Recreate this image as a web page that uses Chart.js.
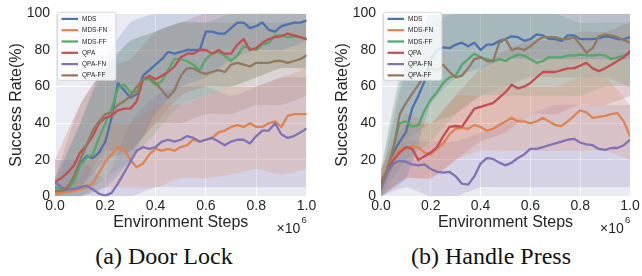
<!DOCTYPE html>
<html><head><meta charset="utf-8">
<script src="https://cdn.jsdelivr.net/npm/chart.js@4/dist/chart.umd.min.js"></script>
<style>
html,body{margin:0;padding:0;background:#fff;width:642px;height:276px;overflow:hidden;position:relative}
#c1{position:absolute;left:0;top:0;width:320px;height:240px}
#c2{position:absolute;left:326px;top:0;width:316px;height:240px}
.cap{position:absolute;top:243px;font-family:'Liberation Serif','Times New Roman',serif;font-size:24px;line-height:26px;color:#111;white-space:nowrap;transform:translateX(-50%)}
</style></head><body>
<canvas id="c1" width="320" height="240"></canvas>
<canvas id="c2" width="316" height="240"></canvas>
<div class="cap" style="left:164px">(a) Door Lock</div>
<div class="cap" style="left:491px">(b) Handle Press</div>
<script>
// ---- data ----
const seriesNames = ['MDS','MDS-FN','MDS-FF','QPA','QPA-FN','QPA-FF'];
const steps = [0,0.025,0.05,0.075,0.1,0.125,0.15,0.175,0.2,0.225,0.25,0.275,0.3,0.325,0.35,0.375,0.4,0.425,0.45,0.475,0.5,0.525,0.55,0.575,0.6,0.625,0.65,0.675,0.7,0.725,0.75,0.775,0.8,0.825,0.85,0.875,0.9,0.925,0.95,0.975,1.0];
const bandSteps = [0,0.1,0.2,0.3,0.4,0.5,0.6,0.7,0.8,0.9,1.0];
const xTicks = [0,0.2,0.4,0.6,0.8,1.0];
const yTicks = [0,20,40,60,80,100];

// (a) Door Lock
const doorMDS   = [3,2.5,4,9,18,22,21,24,30,43,62,58,54,56,66,69,72,75,79,78,79,80,80,80,90,90,89,89,92,95,95,92,93,95,91,90,93,94,95,95,96];
const doorMDSFN = [2,2,2.5,3,4,5,7,13,19,23,27,26,20,16,18,23,26,25,26,25,27,28,31,30,31,32,35,36,38,39,38,40,38,38,40,41,38,44,45,45,45];
const doorMDSFF = [5,4,4,8,17,21,23,32,40,48,59,61,57,57,64,64,61,63,69,75,75,74,72,69,75,78,79,77,74,77,82,81,80,83,84,88,88,87,87.5,87,86];
const doorQPA   = [8,10,13,17,24,28,33,40,43,44,47,48,48,52,64,66,64,66,68,71,76,78,78,80,80,78,80,78,78,83,86,80,81,84,86,87,87.5,89,88,87,86];
const doorQPAFN = [8,5,4,4,5,6,4,1.5,0.5,2,7,13,19,25,27,26,27,30,31,30,31,33,32,30,31,32,30,28,30,31,31,29,33,36,36,40,34,32,33,35,37];
const doorQPAFF = [3,3,5,11,20,28,36,41,45,46,50,52,55,60,64,65,62,58,54,58,66,70,70,68,67,68,69,68,72,73,72,71,73,73,73,74,74,73,74,75,77];

const doorMDSLo   = [0,0,5,20,45,60,65,75,80,80,85];
const doorMDSHi   = [8,40,75,95,100,100,100,100,100,100,100];
const doorMDSFNLo = [0,0,5,5,5,10,10,12,15,12,15];
const doorMDSFNHi = [5,10,40,40,50,50,55,60,60,65,70];
const doorMDSFFLo = [0,0,10,20,35,50,55,60,65,70,70];
const doorMDSFFHi = [10,40,70,85,90,95,95,100,100,100,100];
const doorQPALo   = [0,5,20,25,40,55,60,60,65,70,70];
const doorQPAHi   = [20,50,70,75,90,95,100,100,100,100,100];
const doorQPAFNLo = [0,0,0,0,5,5,5,5,5,5,5];
const doorQPAFNHi = [20,20,10,40,55,60,60,55,60,65,65];
const doorQPAFFLo = [0,5,25,25,40,40,45,45,50,50,55];
const doorQPAFFHi = [10,50,70,85,90,95,95,95,95,95,95];

// (b) Handle Press
const hpMDS   = [5,14,24,30,35,48,55,63,75,80,81.5,81,83,84,82,84,80,83,83,85,86,87.5,87,85,86,88.5,88,86,86,85,88,88,86,86,86,86.5,87.5,87,86,86,87];
const hpMDSFN = [8,15,21,26,26,27.5,27,24,23,26,29,34,37,37.5,37,39,38,36,37,39,41,43,41,41,40,41,43,41,39,38.5,41,44,47,46,43,43.5,44,45,45.5,41,33];
const hpMDSFF = [5,15,27,40,41,38,39,47,53,57,62,65,66,72,75,78,76,75,74,75,74,76,77.5,77,75,73,74,76,76,76,77,77,77.5,77,77,77.5,77,75,76,77,78];
const hpQPA   = [8,14,20,24,27,26,20,22,24,27,33,38,38.5,38,43,48,49,50,51,54,57,61,59,60,62,65,68,68,68,69,70,70,71.5,73,70,68.5,70,72,74,76,79.5];
const hpQPAFN = [4,13,18,19.5,19,17.5,17,17.5,15,13.5,13,13.5,11,7,6.5,11,18,21,20.5,18.5,17,18.5,21,23,26,26,27,28,29,30,31,31.5,29.5,28.5,28,26,25.5,26.5,26.5,28,31];
const hpQPAFF = [6,15,26,45,51,56,61,66,70,69,72,68,65,66,70,75,76,74,74,84,86,80,81,80,82,85,87,87,87,86,86,87,83,78.5,81,87.5,88.5,88,87,85.5,84];

const hpMDSLo   = [0,10,50,65,70,75,75,75,75,75,75];
const hpMDSHi   = [10,70,100,100,100,100,100,100,100,100,100];
const hpMDSFNLo = [0,10,10,20,25,25,25,25,25,25,20];
const hpMDSFNHi = [15,45,40,55,55,60,60,60,65,65,50];
const hpMDSFFLo = [0,20,30,45,55,55,55,55,55,60,60];
const hpMDSFFHi = [15,80,100,100,100,100,100,100,95,95,95];
const hpQPALo   = [0,10,10,20,30,35,45,45,50,50,55];
const hpQPAHi   = [15,40,40,55,70,80,85,85,90,90,95];
const hpQPAFNLo = [0,5,0,0,5,5,5,5,5,5,5];
const hpQPAFNHi = [10,30,30,30,35,40,45,50,50,50,50];
const hpQPAFFLo = [0,30,40,45,55,60,65,65,65,65,60];
const hpQPAFFHi = [15,75,95,100,100,100,100,100,100,100,100];

// ---- style ----
const colors = [[76,114,176],[221,132,82],[85,168,104],[196,78,82],[129,114,179],[147,120,96]];
const TXT = '#262626';
Chart.defaults.font.family = "'Liberation Sans', Arial, sans-serif";

const bgPlugin = {
  id:'bg',
  beforeDraw(chart){
    const {ctx, chartArea:a} = chart;
    ctx.save(); ctx.fillStyle='#EAEAF2';
    ctx.fillRect(a.left,a.top,a.right-a.left,a.bottom-a.top);
    ctx.restore();
  }
};
const legendPlugin = {
  id:'legendBox',
  afterDatasetsDraw(chart){
    const {ctx, chartArea:a} = chart;
    const x = a.left+2.5, y = a.top-1, w = 58.5, h = 68, r = 2.5;
    ctx.save();
    ctx.beginPath();
    ctx.moveTo(x+r,y); ctx.lineTo(x+w-r,y); ctx.arcTo(x+w,y,x+w,y+r,r);
    ctx.lineTo(x+w,y+h-r); ctx.arcTo(x+w,y+h,x+w-r,y+h,r);
    ctx.lineTo(x+r,y+h); ctx.arcTo(x,y+h,x,y+h-r,r);
    ctx.lineTo(x,y+r); ctx.arcTo(x,y,x+r,y,r); ctx.closePath();
    ctx.fillStyle='rgba(255,255,255,0.82)'; ctx.fill();
    ctx.strokeStyle='rgba(204,204,204,0.9)'; ctx.lineWidth=0.8; ctx.stroke();
    ctx.font = "6.5px 'Liberation Sans', Arial, sans-serif";
    ctx.textBaseline='middle'; ctx.fillStyle=TXT;
    for(let i=0;i<seriesNames.length;i++){
      const yy = y + 6.5 + i*11.3;
      ctx.strokeStyle = `rgb(${colors[i].join(',')})`; ctx.lineWidth=2.2;
      ctx.beginPath(); ctx.moveTo(x+4,yy); ctx.lineTo(x+20.5,yy); ctx.stroke();
      ctx.fillText(seriesNames[i], x+24.5, yy+0.3);
    }
    ctx.restore();
  }
};
const offsetPlugin = {
  id:'offsetText',
  afterDraw(chart){
    const {ctx, chartArea:a} = chart;
    ctx.save(); ctx.fillStyle=TXT; ctx.textBaseline='alphabetic';
    ctx.font = "14px 'Liberation Sans', Arial, sans-serif";
    ctx.fillText('\u00d710', a.right-30, 233);
    ctx.font = "9.5px 'Liberation Sans', Arial, sans-serif";
    ctx.fillText('6', a.right-5, 223);
    ctx.restore();
  }
};

function makeChart(id, lines, bands, rightPad){
  const datasets = [];
  lines.forEach((vals,i)=>{
    datasets.push({
      label: seriesNames[i],
      data: steps.map((x,k)=>({x, y: vals[k]})),
      borderColor: `rgb(${colors[i].join(',')})`,
      borderWidth: 2.3, pointRadius: 0, fill: false, tension: 0,
      borderJoinStyle: 'round', borderCapStyle: 'round',
      order: 10 - i
    });
  });
  bands.forEach(([lo,hi],i)=>{
    const loIdx = datasets.length;
    datasets.push({
      label: seriesNames[i]+' lo',
      data: bandSteps.map((x,k)=>({x, y: lo[k]})),
      borderColor:'rgba(0,0,0,0)', borderWidth:0, pointRadius:0, fill:false, tension:0.2,
      order: 40 + i
    });
    datasets.push({
      label: seriesNames[i]+' hi',
      data: bandSteps.map((x,k)=>({x, y: hi[k]})),
      borderColor:'rgba(0,0,0,0)', borderWidth:0, pointRadius:0, tension:0.2,
      fill: loIdx,
      backgroundColor: `rgba(${colors[i].join(',')},0.2)`,
      order: 40 + i
    });
  });
  return new Chart(document.getElementById(id), {
    type:'line',
    data:{datasets},
    plugins:[bgPlugin, legendPlugin, offsetPlugin],
    options:{
      responsive:false, animation:false, devicePixelRatio:1,
      layout:{padding:{top:10,right:rightPad,bottom:0,left:0}},
      plugins:{legend:{display:false}, tooltip:{enabled:false}, filler:{propagate:false}},
      scales:{
        x:{
          type:'linear', min:0, max:1,
          afterFit(s){ s.height = 43.5; },
          afterBuildTicks(s){ s.ticks = xTicks.map(v=>({value:v})); },
          grid:{color:'#ffffff', lineWidth:1, drawTicks:false},
          border:{display:false},
          ticks:{padding:1, color:TXT, font:{size:14}, maxRotation:0, autoSkip:false,
                 callback:v=>Number(v).toFixed(1)},
          title:{display:true, text:'Environment Steps', color:TXT, font:{size:16}, padding:{top:0,bottom:8}}
        },
        y:{
          min:0, max:100,
          afterFit(s){ s.width = 55; },
          afterBuildTicks(s){ s.ticks = yTicks.map(v=>({value:v})); },
          grid:{color:'#ffffff', lineWidth:1, drawTicks:false},
          border:{display:false},
          ticks:{padding:5, color:TXT, font:{size:14}},
          title:{display:true, text:'Success Rate(%)', color:TXT, font:{size:16}, padding:{top:7,bottom:0}}
        }
      }
    }
  });
}

makeChart('c1',
  [doorMDS,doorMDSFN,doorMDSFF,doorQPA,doorQPAFN,doorQPAFF],
  [[doorMDSLo,doorMDSHi],[doorMDSFNLo,doorMDSFNHi],[doorMDSFFLo,doorMDSFFHi],[doorQPALo,doorQPAHi],[doorQPAFNLo,doorQPAFNHi],[doorQPAFFLo,doorQPAFFHi]],
  13.5);
makeChart('c2',
  [hpMDS,hpMDSFN,hpMDSFF,hpQPA,hpQPAFN,hpQPAFF],
  [[hpMDSLo,hpMDSHi],[hpMDSFNLo,hpMDSFNHi],[hpMDSFFLo,hpMDSFFHi],[hpQPALo,hpQPAHi],[hpQPAFNLo,hpQPAFNHi],[hpQPAFFLo,hpQPAFFHi]],
  12);
</script>
</body></html>
